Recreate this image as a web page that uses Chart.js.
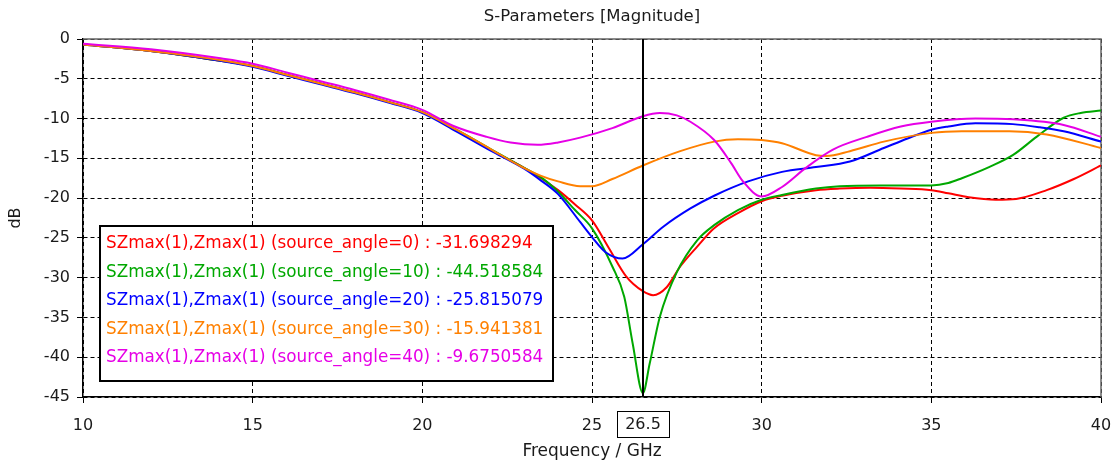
<!DOCTYPE html>
<html>
<head>
<meta charset="utf-8">
<script src="https://cdn.jsdelivr.net/npm/chart.js@4"></script>
<style>
  html, body { margin: 0; padding: 0; background: #fff; }
</style>
</head>
<body>
<canvas id="sparChart" width="1117" height="465"></canvas>
<script>
  const chartTitle = 'S-Parameters [Magnitude]';
  const seriesLabels = [
    'SZmax(1),Zmax(1) (source_angle=0)',
    'SZmax(1),Zmax(1) (source_angle=10)',
    'SZmax(1),Zmax(1) (source_angle=20)',
    'SZmax(1),Zmax(1) (source_angle=30)',
    'SZmax(1),Zmax(1) (source_angle=40)'
  ];
  const seriesColors = ['#ff0000', '#00a800', '#0000ff', '#ff8000', '#e600e6'];
  const markerFreq = 26.5;
  const markerValues = ['-31.698294', '-44.518584', '-25.815079', '-15.941381', '-9.6750584'];
  const xTicks = [10, 15, 20, 25, 30, 35, 40];
  const yTicks = [0, -5, -10, -15, -20, -25, -30, -35, -40, -45];

  // source_angle = 0
  const freqAngle0 = [10, 12, 14, 15, 16, 17, 18, 19, 20, 21, 22, 23, 23.5, 24, 24.5, 25, 25.5, 26, 26.5, 26.8, 27.2, 27.6, 28.1, 28.6, 29.3, 30, 30.6, 31.6, 32.3, 33.2, 34.1, 35, 35.5, 36.1, 36.9, 37.5, 38.4, 39.2, 40];
  const dbAngle0 = [-0.7, -1.5, -2.7, -3.4, -4.5, -5.6, -6.7, -7.9, -9.2, -11.5, -13.9, -16.2, -17.5, -19.0, -20.8, -22.8, -26.3, -29.8, -31.7, -32.2, -31.2, -28.6, -26.1, -23.8, -21.9, -20.4, -19.7, -19.0, -18.8, -18.7, -18.8, -19.0, -19.4, -19.9, -20.2, -20.1, -19.0, -17.6, -15.9];

  // source_angle = 10
  const freqAngle10 = [10, 12, 14, 15, 16, 17, 18, 19, 20, 21, 22, 23, 23.5, 24, 24.5, 25, 25.6, 25.95, 26.2, 26.5, 26.7, 27, 27.5, 28.1, 28.6, 29.3, 30, 30.6, 31.6, 32.3, 33.5, 34.6, 35, 35.5, 35.9, 36.7, 37.4, 38.1, 38.9, 39.4, 40];
  const dbAngle10 = [-0.7, -1.5, -2.7, -3.4, -4.5, -5.6, -6.7, -7.9, -9.2, -11.4, -13.8, -16.2, -17.4, -19.2, -21.5, -23.8, -28.6, -32.4, -38.3, -44.5, -40.8, -34.9, -29.3, -25.3, -23.4, -21.5, -20.2, -19.6, -18.8, -18.5, -18.4, -18.4, -18.4, -18.1, -17.5, -16.1, -14.6, -12.3, -9.9, -9.3, -9.0];

  // source_angle = 20
  const freqAngle20 = [10, 12, 14, 15, 16, 17, 18, 19, 20, 21, 22, 23, 23.5, 24, 24.65, 25, 25.4, 25.9, 26.5, 27.1, 27.9, 28.6, 29.6, 30.6, 31.6, 32.6, 33.6, 34.3, 35, 35.5, 36.3, 37.4, 38.2, 38.9, 40];
  const dbAngle20 = [-0.7, -1.5, -2.7, -3.5, -4.6, -5.7, -6.8, -8.0, -9.3, -11.6, -14.0, -16.3, -17.8, -19.5, -23.0, -24.9, -26.8, -27.6, -25.8, -23.6, -21.3, -19.7, -17.9, -16.7, -16.1, -15.4, -13.7, -12.5, -11.4, -11.0, -10.6, -10.7, -11.1, -11.6, -12.9];

  // source_angle = 30
  const freqAngle30 = [10, 12, 14, 15, 16, 17, 18, 19, 20, 21, 22, 22.9, 23.5, 24, 24.65, 25, 25.6, 26.5, 27.6, 28.6, 29.3, 30, 30.6, 31.6, 31.9, 32.6, 33.6, 35, 35.9, 37.3, 38.4, 40];
  const dbAngle30 = [-0.7, -1.5, -2.6, -3.4, -4.5, -5.6, -6.7, -7.9, -9.2, -11.4, -13.8, -16.0, -17.2, -17.9, -18.5, -18.5, -17.6, -15.9, -14.1, -12.9, -12.6, -12.7, -13.1, -14.6, -14.7, -14.1, -12.9, -11.8, -11.6, -11.6, -12.0, -13.7];

  // source_angle = 40
  const freqAngle40 = [10, 12, 14, 15, 16, 17, 18, 19, 20, 20.9, 21.9, 22.6, 23.4, 24, 24.65, 25.6, 26.5, 27, 27.5, 27.9, 28.6, 29.1, 29.45, 30, 30.6, 31.3, 32.1, 33.1, 34.1, 35, 36.3, 37.4, 38.9, 40];
  const dbAngle40 = [-0.6, -1.3, -2.4, -3.1, -4.2, -5.3, -6.4, -7.6, -8.9, -10.9, -12.3, -13.0, -13.3, -13.0, -12.4, -11.2, -9.7, -9.3, -9.6, -10.4, -12.7, -15.6, -17.9, -19.8, -18.6, -16.2, -13.9, -12.3, -11.0, -10.4, -10.0, -10.1, -10.8, -12.3];

  const freqs = [freqAngle0, freqAngle10, freqAngle20, freqAngle30, freqAngle40];
  const dbs = [dbAngle0, dbAngle10, dbAngle20, dbAngle30, dbAngle40];

  const FONT = '"DejaVu Sans", Verdana, sans-serif';
  const TEXT = '#1a1a1a';

  // title centred over the plot area + gray frame on top/right
  const framePlugin = {
    id: 'frame',
    beforeDatasetsDraw(chart) {
      const { ctx, chartArea: a } = chart;
      ctx.save();
      ctx.strokeStyle = '#666';
      ctx.lineWidth = 1.5;
      ctx.beginPath();
      ctx.moveTo(a.left, a.top);
      ctx.lineTo(a.right, a.top);
      ctx.lineTo(a.right, a.bottom);
      ctx.stroke();

      ctx.fillStyle = TEXT;
      ctx.font = '16.5px ' + FONT;
      ctx.textAlign = 'center';
      ctx.textBaseline = 'middle';
      ctx.fillText(chartTitle, (a.left + a.right) / 2, 17);
      ctx.restore();
    }
  };

  // vertical marker line + boxed frequency label under the axis
  const markerPlugin = {
    id: 'marker',
    afterDatasetsDraw(chart) {
      const { ctx, chartArea: a, scales } = chart;
      const px = Math.round(scales.x.getPixelForValue(markerFreq));
      ctx.save();
      ctx.strokeStyle = '#000';
      ctx.lineWidth = 2;
      ctx.beginPath();
      ctx.moveTo(px, a.top);
      ctx.lineTo(px, a.bottom);
      ctx.stroke();

      const boxY = a.bottom + 14;
      ctx.fillStyle = '#fff';
      ctx.fillRect(px - 26, boxY, 52, 26);
      ctx.lineWidth = 1;
      ctx.strokeRect(px - 26 + 0.5, boxY + 0.5, 52, 26);
      ctx.fillStyle = TEXT;
      ctx.font = '16px ' + FONT;
      ctx.textAlign = 'center';
      ctx.textBaseline = 'middle';
      ctx.fillText(String(markerFreq), px, boxY + 14);
      ctx.restore();
    }
  };

  // boxed legend with marker read-outs
  const legendBoxPlugin = {
    id: 'legendBox',
    afterDraw(chart) {
      const { ctx, chartArea: a } = chart;
      const x0 = a.left + 17, y0 = a.top + 187;
      const w = 453, h = 155;
      ctx.save();
      ctx.fillStyle = '#fff';
      ctx.fillRect(x0, y0, w, h);
      ctx.strokeStyle = '#000';
      ctx.lineWidth = 2;
      ctx.strokeRect(x0, y0, w, h);
      ctx.font = '16.8px ' + FONT;
      ctx.textAlign = 'left';
      ctx.textBaseline = 'middle';
      seriesLabels.forEach((label, i) => {
        ctx.fillStyle = seriesColors[i];
        ctx.fillText(label + ' : ' + markerValues[i], x0 + 6, y0 + 18 + i * 28.5);
      });
      ctx.restore();
    }
  };

  new Chart(document.getElementById('sparChart'), {
    type: 'line',
    data: {
      datasets: seriesLabels.map((label, i) => ({
        label: label,
        data: freqs[i].map((f, j) => ({ x: f, y: dbs[i][j] })),
        borderColor: seriesColors[i],
        backgroundColor: seriesColors[i],
        borderWidth: 2,
        pointRadius: 0,
        fill: false,
        cubicInterpolationMode: 'monotone',
        order: 4 - i
      }))
    },
    options: {
      responsive: false,
      animation: false,
      layout: { padding: { left: 0, right: 16, top: 39, bottom: 0 } },
      plugins: {
        legend: { display: false },
        tooltip: { enabled: false },
        title: { display: false }
      },
      scales: {
        x: {
          type: 'linear',
          min: 10,
          max: 40,
          afterBuildTicks: (scale) => { scale.ticks = xTicks.map(v => ({ value: v })); },
          afterFit: (scale) => {
            scale.height = 68;
            scale.paddingLeft = 0;
            scale.paddingRight = 0;
          },
          ticks: { color: TEXT, font: { family: FONT, size: 16 }, padding: 13, maxRotation: 0 },
          grid: { color: '#000', lineWidth: 1, tickLength: 6, tickColor: '#000' },
          border: { color: '#000', width: 1.5, dash: [4, 3] },
          title: {
            display: true,
            text: 'Frequency / GHz',
            color: TEXT,
            font: { family: FONT, size: 17, lineHeight: 1.2 },
            padding: { top: 0, bottom: 3 }
          }
        },
        y: {
          min: -45,
          max: 0,
          afterBuildTicks: (scale) => { scale.ticks = yTicks.map(v => ({ value: v })); },
          afterFit: (scale) => { scale.width = 83; },
          ticks: { color: TEXT, font: { family: FONT, size: 16 }, padding: 7 },
          grid: { color: '#000', lineWidth: 1, tickLength: 6, tickColor: '#000' },
          border: { color: '#000', width: 1.5, dash: [4, 3] },
          title: {
            display: true,
            text: 'dB',
            color: TEXT,
            font: { family: FONT, size: 16, lineHeight: 1.2 },
            padding: { top: 6, bottom: 0 }
          }
        }
      }
    },
    plugins: [framePlugin, markerPlugin, legendBoxPlugin]
  });
</script>
</body>
</html>
